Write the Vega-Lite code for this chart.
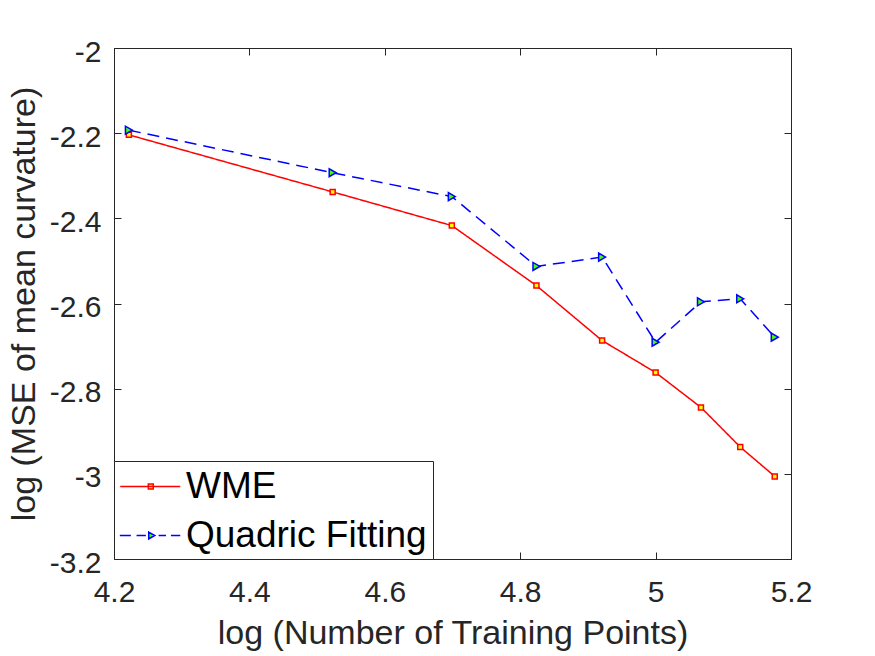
{
  "$schema": "https://vega.github.io/schema/vega-lite/v6.json",
  "width": 677,
  "height": 511,
  "autosize": {"type": "none"},
  "padding": {"left": 114, "top": 48, "right": 84, "bottom": 97},
  "background": "white",
  "data": {
    "values": [
      {"logN": 4.222, "logMSE": -2.204, "method": "WME"},
      {"logN": 4.523, "logMSE": -2.338, "method": "WME"},
      {"logN": 4.699, "logMSE": -2.417, "method": "WME"},
      {"logN": 4.824, "logMSE": -2.558, "method": "WME"},
      {"logN": 4.921, "logMSE": -2.687, "method": "WME"},
      {"logN": 5.0, "logMSE": -2.762, "method": "WME"},
      {"logN": 5.067, "logMSE": -2.844, "method": "WME"},
      {"logN": 5.125, "logMSE": -2.937, "method": "WME"},
      {"logN": 5.176, "logMSE": -3.006, "method": "WME"},
      {"logN": 4.222, "logMSE": -2.193, "method": "Quadric Fitting"},
      {"logN": 4.523, "logMSE": -2.293, "method": "Quadric Fitting"},
      {"logN": 4.699, "logMSE": -2.349, "method": "Quadric Fitting"},
      {"logN": 4.824, "logMSE": -2.513, "method": "Quadric Fitting"},
      {"logN": 4.921, "logMSE": -2.491, "method": "Quadric Fitting"},
      {"logN": 5.0, "logMSE": -2.691, "method": "Quadric Fitting"},
      {"logN": 5.067, "logMSE": -2.596, "method": "Quadric Fitting"},
      {"logN": 5.125, "logMSE": -2.589, "method": "Quadric Fitting"},
      {"logN": 5.176, "logMSE": -2.679, "method": "Quadric Fitting"}
    ]
  },
  "layer": [
    {
      "mark": {"type": "line", "strokeWidth": 1.5},
      "encoding": {
        "x": {
          "field": "logN",
          "type": "quantitative",
          "scale": {"domain": [4.2, 5.2], "nice": false, "zero": false},
          "axis": {
            "title": "log (Number of Training Points)",
            "values": [4.2, 4.4, 4.6, 4.8, 5.0, 5.2],
            "labelExpr": "toString(datum.value)",
            "tickSize": -7,
            "labelPadding": 25,
            "titlePadding": 9
          }
        },
        "y": {
          "field": "logMSE",
          "type": "quantitative",
          "scale": {"domain": [-3.2, -2], "nice": false, "zero": false},
          "axis": {
            "title": "log (MSE of mean curvature)",
            "values": [-3.2, -3, -2.8, -2.6, -2.4, -2.2, -2],
            "labelExpr": "toString(datum.value)",
            "tickSize": -7,
            "labelPadding": 20,
            "labelOffset": 4,
            "titlePadding": 8
          }
        },
        "color": {
          "field": "method",
          "type": "nominal",
          "scale": {"domain": ["Quadric Fitting", "WME"], "range": ["#0000ff", "#ff0000"]},
          "legend": null
        },
        "strokeDash": {
          "field": "method",
          "type": "nominal",
          "scale": {"domain": ["Quadric Fitting", "WME"], "range": [[12, 7], [1, 0]]},
          "legend": null
        }
      }
    },
    {
      "mark": {"type": "point", "filled": false, "opacity": 1, "strokeWidth": 1.5, "fillOpacity": 1},
      "encoding": {
        "x": {
          "field": "logN",
          "type": "quantitative",
          "axis": {
            "orient": "top",
            "title": null,
            "labels": false,
            "domain": false,
            "values": [4.2, 4.4, 4.6, 4.8, 5.0, 5.2],
            "tickSize": -7
          }
        },
        "y": {
          "field": "logMSE",
          "type": "quantitative",
          "axis": {
            "orient": "right",
            "title": null,
            "labels": false,
            "domain": false,
            "values": [-3.2, -3, -2.8, -2.6, -2.4, -2.2, -2],
            "tickSize": -7
          }
        },
        "shape": {
          "field": "method",
          "type": "nominal",
          "scale": {"domain": ["Quadric Fitting", "WME"], "range": ["triangle-right", "square"]},
          "legend": null
        },
        "stroke": {
          "field": "method",
          "type": "nominal",
          "scale": {"domain": ["Quadric Fitting", "WME"], "range": ["#0000ff", "#ff0000"]},
          "legend": null
        },
        "fill": {
          "field": "method",
          "type": "nominal",
          "scale": {"domain": ["Quadric Fitting", "WME"], "range": ["#44ff00", "#ffff00"]},
          "legend": null
        },
        "size": {
          "field": "method",
          "type": "nominal",
          "scale": {"domain": ["Quadric Fitting", "WME"], "range": [64, 25]},
          "legend": null
        }
      }
    },
    {
      "mark": {"type": "point", "filled": false, "opacity": 0, "strokeWidth": 1.5},
      "encoding": {
        "x": {"field": "logN", "type": "quantitative", "axis": null},
        "y": {"field": "logMSE", "type": "quantitative", "axis": null},
        "shape": {
          "field": "method",
          "type": "nominal",
          "scale": {
            "domain": ["WME", "Quadric Fitting"],
            "range": [
              "M-1.015,0H2.145M0.465,-0.13H0.725V0.13H0.465Z",
              "M-1.035,0H-0.455M-0.155,0H0.335M1.005,0H1.395M1.655,0H2.145M0.485,-0.18L0.805,0L0.485,0.18Z"
            ]
          },
          "legend": {"title": null, "orient": "bottom-left"}
        },
        "stroke": {
          "field": "method",
          "type": "nominal",
          "scale": {"domain": ["WME", "Quadric Fitting"], "range": ["#ff0000", "#0000ff"]}
        },
        "fill": {
          "field": "method",
          "type": "nominal",
          "scale": {"domain": ["WME", "Quadric Fitting"], "range": ["#ffff00", "#44ff00"]}
        }
      }
    }
  ],
  "resolve": {
    "axis": {"x": "independent", "y": "independent"},
    "scale": {"shape": "independent", "fill": "independent", "stroke": "independent"},
    "legend": {"shape": "independent", "fill": "independent", "stroke": "independent"}
  },
  "config": {
    "view": {"stroke": "#262626", "strokeWidth": 1},
    "axis": {
      "grid": false,
      "domainColor": "#262626",
      "tickColor": "#262626",
      "labelColor": "#262626",
      "titleColor": "#262626",
      "labelFont": "Liberation Sans",
      "titleFont": "Liberation Sans",
      "labelFontSize": 30,
      "titleFontSize": 34,
      "titleFontWeight": "normal",
      "labelFlush": false,
      "labelOverlap": false
    },
    "legend": {
      "offset": 0,
      "padding": 5.5,
      "rowPadding": 11,
      "symbolSize": 1444,
      "symbolStrokeWidth": 1.5,
      "symbolOpacity": 1,
      "labelOffset": 26.5,
      "labelFontSize": 37,
      "labelFont": "Liberation Sans",
      "labelColor": "#000000",
      "labelLimit": 400,
      "fillColor": "white",
      "strokeColor": "#262626"
    }
  }
}
